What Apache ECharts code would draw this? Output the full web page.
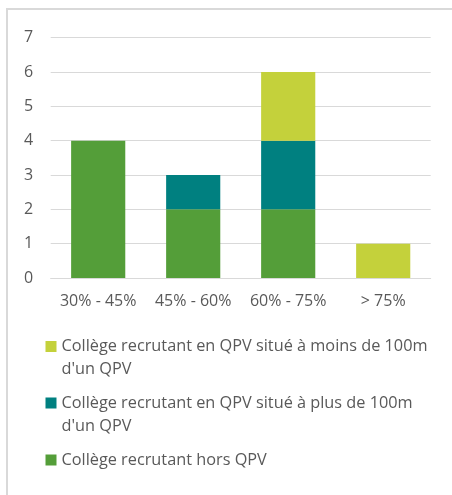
<!DOCTYPE html>
<html>
<head>
<meta charset="utf-8">
<script src="https://cdn.jsdelivr.net/npm/echarts@6/dist/echarts.min.js"></script>
<style>html,body{margin:0;padding:0;background:#fff;}#c{width:452px;height:495px;}</style>
</head>
<body>
<div id="c"></div>
<script>
const categories = ['30% - 45%', '45% - 60%', '60% - 75%', '> 75%'];
const seriesNames = [
  "Collège recrutant hors QPV",
  "Collège recrutant en QPV situé à plus de 100m d'un QPV",
  "Collège recrutant en QPV situé à moins de 100m d'un QPV"
];
const horsQPV = [4, 2, 2, 0];
const plus100m = [0, 1, 2, 0];
const moins100m = [0, 0, 2, 1];
const yTicks = [0, 1, 2, 3, 4, 5, 6, 7];
const colors = ['#549E39', '#008080', '#C4D13B'];

const FONT = 'Open Sans';
const chart = echarts.init(document.getElementById('c'), null, {renderer: 'canvas'});
const legendFmt = n => n.replace(" d'un", "\nd'un");
function legendItem(name, top, twoLine) {
  return {
    data: [name], orient: 'vertical', left: 45.5, top: top, padding: 0,
    icon: twoLine ? 'path://M0,0h11v11h-11z M0,34.3h0.01v0.01h-0.01z' : 'rect',
    itemWidth: 11, itemHeight: twoLine ? 34.3 : 11, selectedMode: false,
    formatter: legendFmt,
    textStyle: {fontFamily: FONT, fontSize: 16.3, color: '#595959', lineHeight: 23.3}
  };
}
chart.setOption({
  backgroundColor: '#fff',
  animation: false,
  color: colors,
  graphic: [{type: 'rect', shape: {x: 7, y: 9, width: 500, height: 600},
    style: {fill: 'none', stroke: '#d9d9d9', lineWidth: 2}}],
  grid: {left: 50.7, right: 21.3, top: 37.7, bottom: 217, containLabel: false},
  xAxis: {type: 'category', data: categories,
    axisLine: {lineStyle: {color: '#d9d9d9', width: 1}}, axisTick: {show: false},
    axisLabel: {fontFamily: FONT, fontSize: 16, color: '#595959', margin: 15,
      interval: 0, hideOverlap: false}},
  yAxis: {type: 'value', min: yTicks[0], max: yTicks[yTicks.length - 1], interval: 1,
    axisLine: {show: false}, axisTick: {show: false},
    splitLine: {lineStyle: {color: '#d9d9d9', width: 1}},
    axisLabel: {fontFamily: FONT, fontSize: 16, color: '#595959', margin: 17.5}},
  legend: [
    legendItem(seriesNames[2], 334.85, true),
    legendItem(seriesNames[1], 391.35, true),
    legendItem(seriesNames[0], 448.35, false)
  ],
  series: [
    {name: seriesNames[0], type: 'bar', stack: 's', data: horsQPV, barWidth: '57%', itemStyle: {color: colors[0]}},
    {name: seriesNames[1], type: 'bar', stack: 's', data: plus100m, barWidth: '57%', itemStyle: {color: colors[1]}},
    {name: seriesNames[2], type: 'bar', stack: 's', data: moins100m, barWidth: '57%', itemStyle: {color: colors[2]}}
  ]
});
</script>
</body>
</html>
